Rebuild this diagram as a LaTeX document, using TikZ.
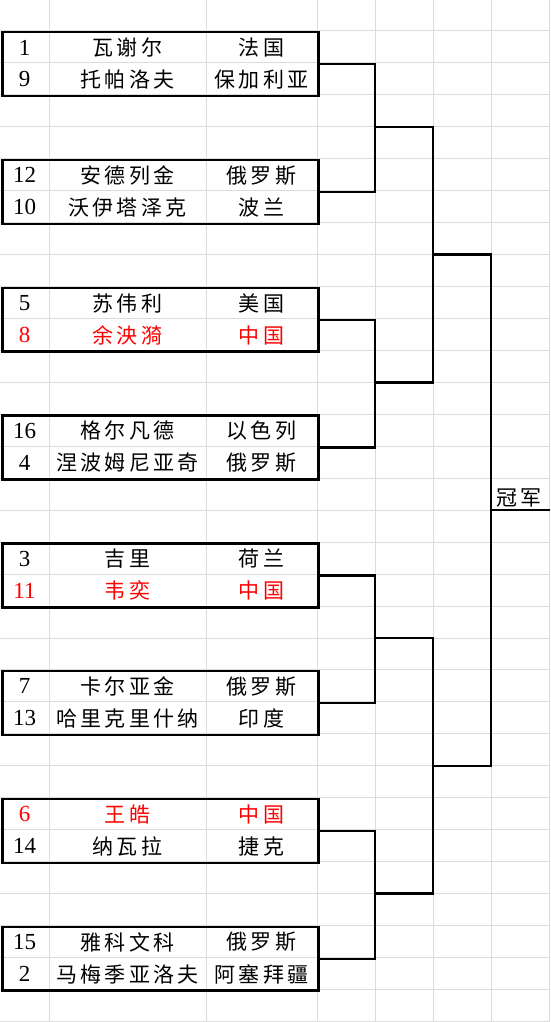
\documentclass[tikz,border=0pt]{standalone}
\usepackage{fontspec}
\setmainfont{Liberation Serif}
\newfontfamily\cjk{Noto Sans CJK SC}[LetterSpace=16]
\definecolor{gridgray}{RGB}{220,220,220}
\tikzset{
  gridline/.style={draw=gridgray, line width=1pt},
  frame/.style={draw=black, line width=2.5pt, inner sep=0pt},
  link/.style={draw=black, line width=2.5pt},
  seedcell/.style={inner sep=0pt, font=\fontsize{23}{23}\selectfont},
  hanzi/.style={inner sep=0pt, font=\cjk\fontsize{21}{21}\selectfont},
}

\begin{document}
\begin{tikzpicture}[x=1pt, y=-1pt]
    \useasboundingbox (0,0) rectangle (550,1022);

    % Sheet grid
    \foreach \gx in {49,206,317,375,433,491,549}
        \draw[gridline] (\gx,0) -- (\gx,1022);
    \foreach \r in {0,...,32}
        \draw[gridline] (0,{31.95*\r-1}) -- (550,{31.95*\r-1});

    % Pairings (seed / player / country, two per box)
    \foreach \k/\sa/\na/\ca/\ta/\sb/\nb/\cb/\tb in {
        0/1/瓦谢尔/法国/black/9/托帕洛夫/保加利亚/black,
        1/12/安德列金/俄罗斯/black/10/沃伊塔泽克/波兰/black,
        2/5/苏伟利/美国/black/8/余泱漪/中国/red,
        3/16/格尔凡德/以色列/black/4/涅波姆尼亚奇/俄罗斯/black,
        4/3/吉里/荷兰/black/11/韦奕/中国/red,
        5/7/卡尔亚金/俄罗斯/black/13/哈里克里什纳/印度/black,
        6/6/王皓/中国/red/14/纳瓦拉/捷克/black,
        7/15/雅科文科/俄罗斯/black/2/马梅季亚洛夫/阿塞拜疆/black}{
        \pgfmathsetmacro\ytop{31.95*(1+4*\k)-1}
        \node[frame, anchor=north west, minimum width=316pt, minimum height=63.9pt] (b\k) at (1.2,\ytop) {};
        \node[seedcell, text=\ta] (s\k-a) at (24.5,{\ytop+16.5}) {\sa};
        \node[hanzi, text=\ta] (p\k-a) at (127.5,{\ytop+16.5}) {\na};
        \node[hanzi, text=\ta] (c\k-a) at (261.5,{\ytop+16.5}) {\ca};
        \node[seedcell, text=\tb] (s\k-b) at (24.5,{\ytop+48.5}) {\sb};
        \node[hanzi, text=\tb] (p\k-b) at (127.5,{\ytop+48.5}) {\nb};
        \node[hanzi, text=\tb] (c\k-b) at (261.5,{\ytop+48.5}) {\cb};
    }

    % Round joins
    \coordinate (j0) at (375,{31.95*4-1});
    \coordinate (j1) at (375,{31.95*12-1});
    \coordinate (j2) at (375,{31.95*20-1});
    \coordinate (j3) at (375,{31.95*28-1});
    \coordinate (k0) at (433,{31.95*8-1});
    \coordinate (k1) at (433,{31.95*24-1});
    \coordinate (f) at (491,{31.95*16-1});
    \coordinate (win) at (550,{31.95*16-1});

    % Quarter finals
    \draw[link] (b0.east) -| (j0) |- (b1.east);
    \draw[link] (b2.east) -| (j1) |- (b3.east);
    \draw[link] (b4.east) -| (j2) |- (b5.east);
    \draw[link] (b6.east) -| (j3) |- (b7.east);

    % Semi finals
    \draw[link] (j0) -| (k0) |- (j1);
    \draw[link] (j2) -| (k1) |- (j3);

    % Final
    \draw[link] (k0) -| (f) |- (k1);
    \draw[link] (f) -- (win);
    \node[hanzi, anchor=base west] (champ) at (496,{31.95*16-6}) {冠军};

\end{tikzpicture}
\end{document}
